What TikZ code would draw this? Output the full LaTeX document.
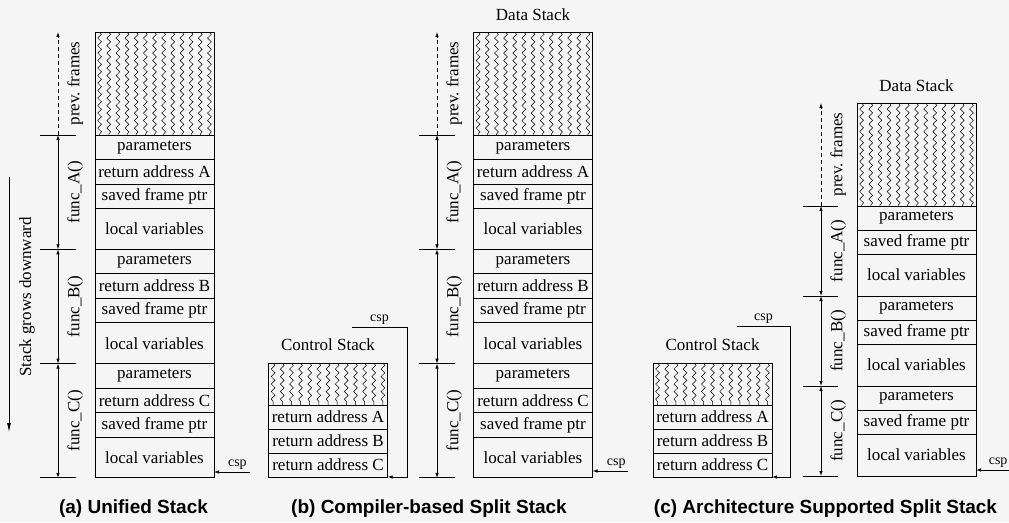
\documentclass[tikz,border=0pt]{standalone}
\usepackage{fontspec}
\setmainfont{Liberation Serif}
\newfontfamily\capfont{Liberation Sans}
\usetikzlibrary{arrows.meta,positioning,calc,decorations.pathmorphing}
\newcommand{\stacktext}{\fontsize{17}{19}\selectfont}

\begin{document}
\begin{tikzpicture}[x=1pt, y=-1pt,
    >={Latex[length=5pt,width=3.5pt]},
    cell/.style={draw, line width=0.9pt, minimum width=119pt, minimum height=24.5pt, inner sep=0pt, outer sep=0pt, font=\stacktext},
    localvars/.style={cell, minimum height=40.8pt},
    hatched/.style={cell, minimum height=103pt, path picture={
        \foreach \k in {0,...,12}
          \draw[line width=0.5pt, decorate, decoration={snake, amplitude=1.9pt, segment length=7.5pt}]
            ([xshift=4.6pt+\k*9.15pt]path picture bounding box.north west) --
            ([xshift=4.6pt+\k*9.15pt]path picture bounding box.south west);}},
    title/.style={font=\stacktext, inner sep=3pt},
    vlabel/.style={font=\stacktext, rotate=90, anchor=north, inner sep=9pt},
    csplabel/.style={font=\fontsize{14}{16}\selectfont, inner sep=2pt},
    caption/.style={font=\capfont\fontsize{19}{22}\selectfont\bfseries, anchor=base},
    tick/.style={line width=0.9pt},
    span/.style={line width=0.8pt, <->},
    pointer/.style={line width=0.8pt, ->}
]
\fill[black!4] (0,0) rectangle (1009,522);
\useasboundingbox (0,0) rectangle (1009,522);

% (a) unified stack
\node[hatched, anchor=north] (aL0) at (154.5,32) {};
\foreach \f [count=\i, remember=\i as \j (initially 0)] in {A,B,C} {
  \node[cell, below=0pt of aL\j] (aP\i) {parameters};
  \node[cell, below=0pt of aP\i] (aR\i) {return address \f};
  \node[cell, below=0pt of aR\i] (aS\i) {saved frame ptr};
  \node[localvars, below=0pt of aS\i] (aL\i) {local variables};
}
\coordinate (aT0) at (58,0 |- aL0.north);
\foreach \i [count=\k] in {0,...,3}
  \coordinate (aT\k) at (58,0 |- aL\i.south);
\foreach \k in {1,...,4}
  \draw[tick] ([xshift=-18pt]aT\k) -- ([xshift=18pt]aT\k);
\draw[pointer, dash pattern=on 4pt off 3pt] (aT1) -- node[vlabel]{prev.\ frames} (aT0);
\foreach \f/\i/\k in {A/1/2,B/2/3,C/3/4}
  \draw[span] (aT\i) -- node[vlabel]{func\_\f()} (aT\k);
\coordinate (growTop) at (9,177);
\coordinate (growBot) at (9,432);
\draw[line width=0.8pt, -{Latex[length=9pt,width=4pt]}] (growTop) -- node[vlabel, pos=0.47, inner sep=10pt]{Stack grows downward} (growBot);
\coordinate (aCsp) at (250,472);
\draw[pointer] (aCsp) -- node[csplabel, above, pos=0.35]{csp} (aCsp -| aL3.east);
\node[caption] (capA) at (133.5,513) {(a) Unified Stack};

% (b) compiler-based split stack
\node[hatched, anchor=north] (bL0) at (533,32) {};
\node[title, above=8pt of bL0] (bData) {Data Stack};
\foreach \f [count=\i, remember=\i as \j (initially 0)] in {A,B,C} {
  \node[cell, below=0pt of bL\j] (bP\i) {parameters};
  \node[cell, below=0pt of bP\i] (bR\i) {return address \f};
  \node[cell, below=0pt of bR\i] (bS\i) {saved frame ptr};
  \node[localvars, below=0pt of bS\i] (bL\i) {local variables};
}
\coordinate (bT0) at (437,0 |- bL0.north);
\foreach \i [count=\k] in {0,...,3}
  \coordinate (bT\k) at (437,0 |- bL\i.south);
\foreach \k in {1,...,4}
  \draw[tick] ([xshift=-18pt]bT\k) -- ([xshift=18pt]bT\k);
\draw[pointer, dash pattern=on 4pt off 3pt] (bT1) -- node[vlabel]{prev.\ frames} (bT0);
\foreach \f/\i/\k in {A/1/2,B/2/3,C/3/4}
  \draw[span] (bT\i) -- node[vlabel]{func\_\f()} (bT\k);
\coordinate (bCsp) at (628,471);
\draw[pointer] (bCsp) -- node[csplabel, above, pos=0.33]{csp} (bCsp -| bL3.east);

\node[hatched, minimum height=42pt, anchor=north] (bcH) at (328,363) {};
\node[title, above=9pt of bcH] (bCtrl) {Control Stack};
\node[cell, minimum height=24pt, below=0pt of bcH] (bcR1) {return address A};
\node[cell, minimum height=24pt, below=0pt of bcR1] (bcR2) {return address B};
\node[cell, minimum height=24pt, below=0pt of bcR2] (bcR3) {return address C};
\coordinate (bcCsp) at (352,327);
\draw[pointer] (bcCsp) -- node[csplabel, above]{csp} ++(55,0) |- (bcR3.south east);
\node[caption] (capB) at (429,513) {(b) Compiler-based Split Stack};

% (c) architecture supported split stack
\node[hatched, anchor=north] (cL0) at (916.5,103) {};
\node[title, above=8pt of cL0] (cData) {Data Stack};
\foreach \f [count=\i, remember=\i as \j (initially 0)] in {A,B,C} {
  \node[cell, minimum height=24pt, below=0pt of cL\j] (cP\i) {parameters};
  \node[cell, minimum height=24pt, below=0pt of cP\i] (cS\i) {saved frame ptr};
  \node[localvars, minimum height=42pt, below=0pt of cS\i] (cL\i) {local variables};
}
\coordinate (cT0) at (821,0 |- cL0.north);
\foreach \i [count=\k] in {0,...,3}
  \coordinate (cT\k) at (821,0 |- cL\i.south);
\foreach \k in {1,...,4}
  \draw[tick] ([xshift=-18pt]cT\k) -- ([xshift=17pt]cT\k);
\draw[pointer, dash pattern=on 4pt off 3pt] (cT1) -- node[vlabel]{prev.\ frames} (cT0);
\foreach \f/\i/\k in {A/1/2,B/2/3,C/3/4}
  \draw[span] (cT\i) -- node[vlabel]{func\_\f()} (cT\k);
\coordinate (cCsp) at (1009,470);
\draw[pointer] (cCsp) -- node[csplabel, above, pos=0.33]{csp} (cCsp -| cL3.east);

\node[hatched, minimum height=42pt, anchor=north] (ccH) at (712.5,363) {};
\node[title, above=9pt of ccH] (cCtrl) {Control Stack};
\node[cell, minimum height=24pt, below=0pt of ccH] (ccR1) {return address A};
\node[cell, minimum height=24pt, below=0pt of ccR1] (ccR2) {return address B};
\node[cell, minimum height=24pt, below=0pt of ccR2] (ccR3) {return address C};
\coordinate (ccCsp) at (737,326);
\draw[pointer] (ccCsp) -- node[csplabel, above]{csp} ++(53,0) |- (ccR3.south east);
\node[caption] (capC) at (825.5,513) {(c) Architecture Supported Split Stack};
\end{tikzpicture}
\end{document}
